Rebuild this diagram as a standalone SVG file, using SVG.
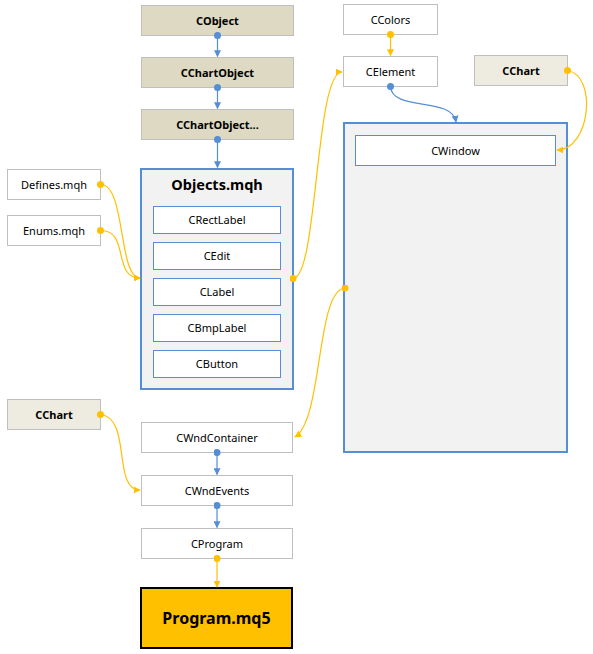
<svg xmlns="http://www.w3.org/2000/svg" width="593" height="654" viewBox="0 0 593 654">
<style>
text{font-family:"Segoe UI","Noto Sans","Open Sans",sans-serif;font-size:11px;fill:#000;text-anchor:middle;dominant-baseline:central}
.b{font-weight:bold}
.beige{fill:#DDD9C3;stroke:#BFBFBF;stroke-width:1}
.lbeige{fill:#EEECE1;stroke:#BFBFBF;stroke-width:1}
.white{fill:#FFFFFF;stroke:#BFBFBF;stroke-width:1}
.inner{fill:#FFFFFF;stroke:#558ED5;stroke-width:1}
.group{fill:#F2F2F2;stroke:#558ED5;stroke-width:2}
.cy{fill:none;stroke:#FFC000;stroke-width:1.2;marker-start:url(#dy);marker-end:url(#ay)}
.cb{fill:none;stroke:#558ED5;stroke-width:1.2;marker-start:url(#db);marker-end:url(#ab)}
</style>
<defs>
<marker id="ay" viewBox="0 0 10 10" refX="9" refY="5" markerWidth="7" markerHeight="7" markerUnits="userSpaceOnUse" orient="auto"><path d="M0,0 L10,5 L0,10 Z" fill="#FFC000"/></marker>
<marker id="ab" viewBox="0 0 10 10" refX="9" refY="5" markerWidth="7" markerHeight="7" markerUnits="userSpaceOnUse" orient="auto"><path d="M0,0 L10,5 L0,10 Z" fill="#558ED5"/></marker>
<marker id="dy" viewBox="0 0 10 10" refX="5" refY="5" markerWidth="7" markerHeight="7" markerUnits="userSpaceOnUse"><circle cx="5" cy="5" r="5" fill="#FFC000"/></marker>
<marker id="db" viewBox="0 0 10 10" refX="5" refY="5" markerWidth="7" markerHeight="7" markerUnits="userSpaceOnUse"><circle cx="5" cy="5" r="5" fill="#558ED5"/></marker>
</defs>

<g id="n-cobject"><rect class="beige" x="141.5" y="5.5" width="152" height="30"/><text class="b" x="217.5" y="20">CObject</text></g>
<g id="n-cchartobject"><rect class="beige" x="141.5" y="57.5" width="152" height="30"/><text class="b" x="217.5" y="72">CChartObject</text></g>
<g id="n-cchartobject2"><rect class="beige" x="141.5" y="109.5" width="152" height="30"/><text class="b" x="217.5" y="124">CChartObject...</text></g>

<g id="n-objects">
<rect class="group" x="141" y="169" width="152" height="220"/>
<text class="b" x="217" y="183.5" style="font-size:14.5px">Objects.mqh</text>
<g id="n-crectlabel"><rect class="inner" x="153.5" y="206.5" width="127" height="27"/><text x="217" y="219.5">CRectLabel</text></g>
<g id="n-cedit"><rect class="inner" x="153.5" y="242.5" width="127" height="27"/><text x="217" y="255.5">CEdit</text></g>
<g id="n-clabel"><rect class="inner" x="153.5" y="278.5" width="127" height="27"/><text x="217" y="291.5">CLabel</text></g>
<g id="n-cbmplabel"><rect class="inner" x="153.5" y="314.5" width="127" height="27"/><text x="217" y="327.5">CBmpLabel</text></g>
<g id="n-cbutton"><rect class="inner" x="153.5" y="350.5" width="127" height="27"/><text x="217" y="363.5">CButton</text></g>
</g>

<g id="n-defines"><rect class="white" x="7.5" y="169.5" width="93" height="30"/><text x="54" y="184">Defines.mqh</text></g>
<g id="n-enums"><rect class="white" x="7.5" y="215.5" width="93" height="30"/><text x="54" y="230">Enums.mqh</text></g>

<g id="n-ccolors"><rect class="white" x="343.5" y="4.5" width="94" height="30"/><text x="390.5" y="19">CColors</text></g>
<g id="n-celement"><rect class="white" x="343.5" y="56.5" width="94" height="30"/><text x="390.5" y="71">CElement</text></g>
<g id="n-cchart-top"><rect class="lbeige" x="474.5" y="55.5" width="93" height="30"/><text class="b" x="521" y="70">CChart</text></g>

<g id="n-window">
<rect class="group" x="344" y="123" width="223" height="329"/>
<g id="n-cwindow"><rect class="inner" x="355.5" y="135.5" width="200" height="30"/><text x="455.5" y="150">CWindow</text></g>
</g>

<g id="n-cchart-bottom"><rect class="lbeige" x="7.5" y="399.5" width="93" height="30"/><text class="b" x="54" y="414">CChart</text></g>
<g id="n-cwndcontainer"><rect class="white" x="141.5" y="422.5" width="151" height="30"/><text x="217" y="437">CWndContainer</text></g>
<g id="n-cwndevents"><rect class="white" x="141.5" y="475.5" width="151" height="30"/><text x="217" y="490">CWndEvents</text></g>
<g id="n-cprogram"><rect class="white" x="141.5" y="528.5" width="151" height="30"/><text x="217" y="543">CProgram</text></g>
<g id="n-program"><rect x="141" y="588" width="151" height="60" fill="#FFC000" stroke="#000" stroke-width="2"/><text class="b" x="216.5" y="618" style="font-size:16px">Program.mq5</text></g>

<g id="connectors">
<path class="cb" d="M217.5,35.5 L217.5,56.5"/>
<path class="cb" d="M217.5,87.5 L217.5,108.5"/>
<path class="cb" d="M217.5,139.5 L217.5,167.5"/>
<path class="cy" d="M100.5,184.5 C126,184 118,278 140,278"/>
<path class="cy" d="M100.5,230.5 C130,230 112,278 140,278"/>
<path class="cy" d="M293,278.5 C318,278 315,72 342,72"/>
<path class="cy" d="M390.5,34.5 L390.5,55.5"/>
<path class="cb" d="M390.5,86.5 C392,112 452,96 456,122"/>
<path class="cy" d="M567.5,70.5 C598,76 590,150 557,150"/>
<path class="cy" d="M345,288 C316,290 323,420 295,437"/>
<path class="cy" d="M100.5,414.5 C132,418 112,490 140,490"/>
<path class="cb" d="M217,452.5 L217,474.5"/>
<path class="cb" d="M217,505.5 L217,527.5"/>
<path class="cy" d="M217,558.5 L217,587"/>
</g>
</svg>
